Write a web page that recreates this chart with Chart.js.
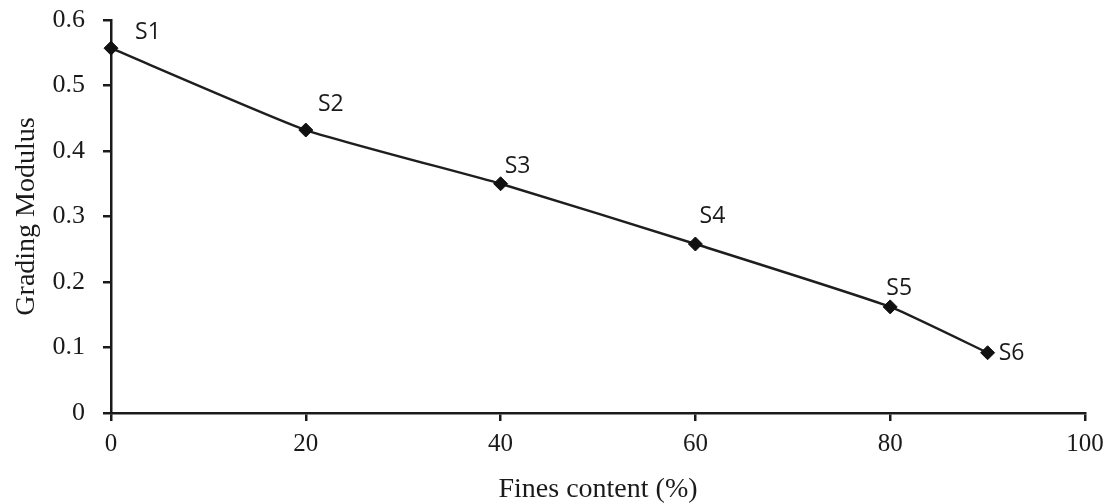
<!DOCTYPE html>
<html>
<head>
<meta charset="utf-8">
<script src="https://cdn.jsdelivr.net/npm/chart.js@4"></script>
<style>
html,body{margin:0;padding:0;background:#fff;}
#wrap{width:1110px;height:504px;position:relative;}
</style>
</head>
<body>
<div id="wrap"><canvas id="c" width="1110" height="504"></canvas></div>
<script>
// ---- data ----
const finesContent = [0, 20, 40, 60, 80, 90];
const gradingModulus = [0.557, 0.432, 0.350, 0.258, 0.162, 0.092];
const sampleLabels = ['S1', 'S2', 'S3', 'S4', 'S5', 'S6'];
const xTicks = [0, 20, 40, 60, 80, 100];
const yTicks = [0, 0.1, 0.2, 0.3, 0.4, 0.5, 0.6];

// ---- styling (label placement relative to each point, in px) ----
const labelOffsets = [[37,-16],[25,-26],[17,-17],[17,-28],[9,-18],[24,1]];

const pointLabelPlugin = {
  id: 'pointLabels',
  afterDatasetsDraw(chart) {
    const meta = chart.getDatasetMeta(0);
    const ctx = chart.ctx;
    ctx.save();
    ctx.font = '23px "Open Sans", "DejaVu Sans", sans-serif';
    ctx.fillStyle = '#1a1a1a';
    ctx.textAlign = 'center';
    ctx.textBaseline = 'middle';
    meta.data.forEach((pt, i) => {
      const off = labelOffsets[i];
      ctx.fillText(sampleLabels[i], pt.x + off[0], pt.y + off[1]);
    });
    ctx.restore();
  }
};

const serif = '"Liberation Serif", "Times New Roman", serif';

new Chart(document.getElementById('c'), {
  type: 'scatter',
  data: {
    datasets: [{
      data: finesContent.map((x, i) => ({x: x, y: gradingModulus[i]})),
      showLine: true,
      borderColor: '#1e1e1e',
      borderWidth: 2.4,
      tension: 0.15,
      pointStyle: 'rectRot',
      pointRadius: 7,
      pointBackgroundColor: '#111',
      pointBorderColor: '#111',
      pointBorderWidth: 1,
      clip: false
    }]
  },
  options: {
    responsive: false,
    animation: false,
    devicePixelRatio: 1,
    layout: { padding: { left: 0, right: 25, top: 20, bottom: 0 } },
    plugins: { legend: { display: false }, tooltip: { enabled: false } },
    scales: {
      x: {
        type: 'linear',
        min: 0, max: 100,
        afterBuildTicks(scale) { scale.ticks = xTicks.map(v => ({value: v})); },
        afterFit(scale) { scale.height = 91; scale.paddingLeft = 0; scale.paddingRight = 0; },
        border: { display: true, color: '#1a1a1a', width: 2.5 },
        grid: { display: true, drawOnChartArea: false, drawTicks: true, tickLength: 8, color: '#1a1a1a', lineWidth: 2.5 },
        ticks: { color: '#1a1a1a', font: { family: serif, size: 25 }, padding: 8, maxRotation: 0 },
        title: { display: true, text: 'Fines content (%)', color: '#1a1a1a', font: { family: serif, size: 28 }, padding: { top: 4, bottom: -2 } }
      },
      y: {
        type: 'linear',
        min: 0, max: 0.6,
        afterBuildTicks(scale) { scale.ticks = yTicks.map(v => ({value: v})); },
        afterFit(scale) { scale.width = 111; scale.paddingTop = 0; scale.paddingBottom = 0; },
        border: { display: true, color: '#1a1a1a', width: 2.5 },
        grid: { display: true, drawOnChartArea: false, drawTicks: true, tickLength: 8, color: '#1a1a1a', lineWidth: 2.5 },
        ticks: { color: '#1a1a1a', font: { family: serif, size: 26 }, padding: 18,
          callback: v => (v === 0 ? '0' : v.toFixed(1)) },
        title: { display: true, text: 'Grading Modulus', color: '#1a1a1a', font: { family: serif, size: 28 }, padding: { top: 10, bottom: 0 } }
      }
    }
  },
  plugins: [pointLabelPlugin]
});
</script>
</body>
</html>
